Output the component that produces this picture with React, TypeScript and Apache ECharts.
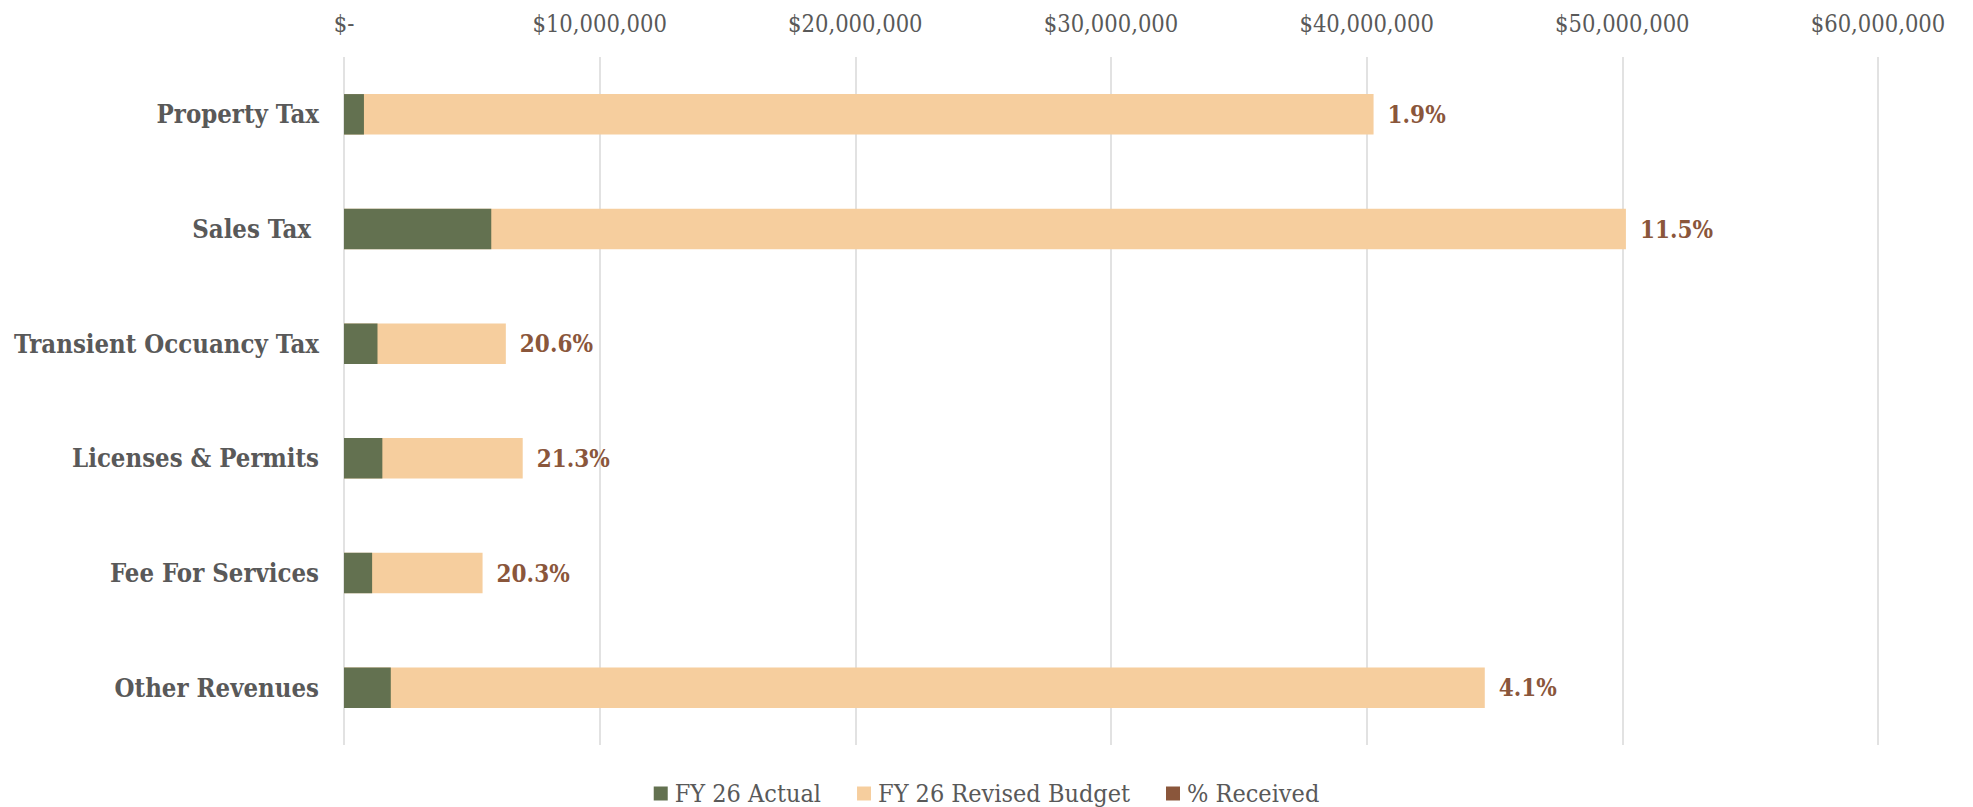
import React, { useEffect, useRef } from "react";
import * as echarts from "echarts";

const categories = [
  "Property Tax",
  "Sales Tax ",
  "Transient Occuancy Tax",
  "Licenses & Permits",
  "Fee For Services",
  "Other Revenues",
];
const actual = [780000, 5760000, 1310000, 1500000, 1100000, 1830000];
const revisedBudget = [40270000, 50140000, 6330000, 6990000, 5420000, 44620000];
const pctReceived = ["1.9%", "11.5%", "20.6%", "21.3%", "20.3%", "4.1%"];
const seriesNames = ["FY 26 Actual", "FY 26 Revised Budget", "% Received"];

const FONT = "'DejaVu Serif Condensed', 'DejaVu Serif', serif";
const GREEN = "#637150";
const ORANGE = "#F6CE9E";
const BROWN = "#8A563B";
const GRAY = "#595959";

export default function App() {
  const ref = useRef<HTMLDivElement>(null);
  useEffect(() => {
    if (!ref.current) return;
    const chart = echarts.init(ref.current, undefined, { renderer: "svg" });
    chart.setOption({
      animation: false,
      textStyle: { fontFamily: FONT },
      grid: { left: 344, right: 95, top: 57, bottom: 62, containLabel: false },
      legend: {
        data: seriesNames,
        left: "center",
        top: 776,
        icon: "rect",
        itemWidth: 14,
        itemHeight: 14,
        itemGap: 36,
        textStyle: { fontFamily: FONT, fontSize: 25, color: GRAY, padding: [0, 0, 0, 2] },
      },
      xAxis: {
        type: "value",
        position: "top",
        min: 0,
        max: 60000000,
        interval: 10000000,
        axisLine: { show: false },
        axisTick: { show: false },
        splitLine: { show: true, lineStyle: { color: "#D9D9D9", width: 1.5 } },
        axisLabel: {
          fontFamily: FONT,
          fontSize: 23.5,
          color: GRAY,
          margin: 21,
          formatter: (v: number) => (v === 0 ? "$-" : "$" + v.toLocaleString("en-US")),
        },
      },
      yAxis: {
        type: "category",
        data: categories,
        inverse: true,
        axisLine: { show: false },
        axisTick: { show: false },
        axisLabel: {
          fontFamily: FONT,
          fontSize: 25.5,
          fontWeight: "bold",
          color: GRAY,
          margin: 25,
        },
      },
      series: [
        {
          name: seriesNames[1],
          type: "bar",
          data: revisedBudget,
          barCategoryGap: "64.7%",
          barGap: "-100%",
          itemStyle: { color: ORANGE },
          label: {
            show: true,
            position: "right",
            distance: 14,
            fontFamily: FONT,
            fontSize: 24,
            fontWeight: "bold",
            color: BROWN,
            formatter: (p: any) => pctReceived[p.dataIndex],
          },
        },
        {
          name: seriesNames[0],
          type: "bar",
          data: actual,
          barCategoryGap: "64.7%",
          barGap: "-100%",
          itemStyle: { color: GREEN },
        },
        {
          name: seriesNames[2],
          type: "bar",
          data: [],
          barCategoryGap: "64.7%",
          barGap: "-100%",
          itemStyle: { color: BROWN },
        },
      ],
    });
    return () => chart.dispose();
  }, []);
  return (
    <div
      ref={ref}
      style={{ position: "absolute", left: 0, top: 0, width: 1973, height: 807 }}
    />
  );
}
